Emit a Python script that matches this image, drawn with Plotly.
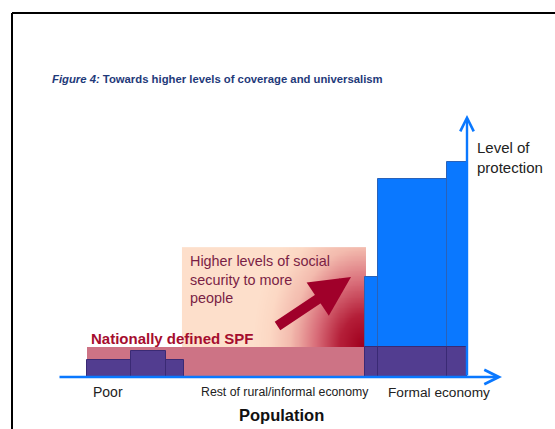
import numpy as np
import plotly.graph_objects as go

FONT = "Arial, 'Liberation Sans', sans-serif"

# Population groups along the x axis (left edge, width) and their level of protection
poor_left = [29, 73, 108]
poor_width = [44, 35, 18]
poor_level = [17, 26, 17]

formal_left = [307, 320, 389]
formal_width = [13, 69, 20]
formal_level = [100, 198, 215]

# Nationally defined social protection floor (SPF) across the non-formal population
spf_left, spf_width, spf_level = 29, 278, 30

# Region of extension ("higher levels of social security to more people")
ext_x0, ext_x1, ext_y0, ext_y1 = 125, 307, 30, 129

x_labels = ["Poor", "Rest of rural/informal economy", "Formal economy"]
x_label_pos = [50, 227, 381]

BLUE = "#0A78FF"
BLUE_EDGE = "#2A62B8"
PURPLE = "#523D90"
PURPLE_EDGE = "#3A2A74"
PINK = "#CD7385"
CRIMSON = "#A50D2E"
MAROON = "#7A1E45"


def centers(left, width):
    return [l + w / 2 for l, w in zip(left, width)]


fig = go.Figure()

# gradient background of the extension region (dark red toward the formal economy)
gx = np.linspace(ext_x0, ext_x1, 90)
gy = np.linspace(ext_y0, ext_y1, 60)
GX, GY = np.meshgrid(gx, gy)
dist = np.sqrt(((ext_x1 - 3 - GX) / 110.0) ** 2 + ((GY - ext_y0 - 2) / 150.0) ** 2)
fig.add_trace(go.Heatmap(
    x=gx, y=gy, z=np.clip(dist, 0, 1), zmin=0, zmax=1, zsmooth="best",
    colorscale=[[0, "#A0001E"], [0.2, "#B41E38"], [0.42, "#D86C78"],
                [0.65, "#F3BBAE"], [0.85, "#FCD8C4"], [1, "#FDDFCB"]],
    showscale=False, hoverinfo="skip"))

# SPF band
fig.add_trace(go.Bar(
    x=[spf_left + spf_width / 2], y=[spf_level], width=[spf_width], base=0,
    marker=dict(color=PINK, line=dict(width=0)), hoverinfo="skip"))

# poor groups
fig.add_trace(go.Bar(
    x=centers(poor_left, poor_width), y=poor_level, width=poor_width, base=0,
    marker=dict(color=PURPLE, line=dict(color=PURPLE_EDGE, width=1)), hoverinfo="skip"))

# formal economy: full level of protection
fig.add_trace(go.Bar(
    x=centers(formal_left, formal_width), y=formal_level, width=formal_width, base=0,
    marker=dict(color=BLUE, line=dict(color=BLUE_EDGE, width=1)), hoverinfo="skip"))

# formal economy: part covered by the floor
fig.add_trace(go.Bar(
    x=centers(formal_left, formal_width), y=[spf_level] * 3, width=formal_width, base=0,
    marker=dict(color=PURPLE, line=dict(color=PURPLE_EDGE, width=1)), hoverinfo="skip"))

x_end = formal_left[-1] + formal_width[-1]

annotations = [
    # x axis arrow
    dict(x=444, y=0, ax=0, ay=0, axref="x", ayref="y", xref="x", yref="y",
         showarrow=True, arrowhead=5, arrowsize=1.1, arrowwidth=2.6, arrowcolor=BLUE, text=""),
    # y axis arrow
    dict(x=x_end, y=262, ax=x_end, ay=0, axref="x", ayref="y", xref="x", yref="y",
         showarrow=True, arrowhead=5, arrowsize=1.1, arrowwidth=2.4, arrowcolor=BLUE, text=""),
    # extension arrow
    dict(x=293, y=100, ax=218, ay=50, axref="x", ayref="y", xref="x", yref="y",
         showarrow=True, arrowhead=2, arrowsize=0.8, arrowwidth=10, arrowcolor="#A0002A", text=""),
    # texts
    dict(x=130, y=126, xref="x", yref="y", xanchor="left", yanchor="top", showarrow=False,
         align="left", text="Higher levels of social<br>security to more<br>people",
         font=dict(family=FONT, size=14.4, color=MAROON)),
    dict(x=31, y=39, xref="x", yref="y", xanchor="left", yanchor="middle", showarrow=False,
         text="<b>Nationally defined SPF</b>", font=dict(family=FONT, size=15, color=CRIMSON)),
    dict(x=417, y=220, xref="x", yref="y", xanchor="left", yanchor="middle", showarrow=False,
         align="left", text="Level of<br>protection",
         font=dict(family=FONT, size=15, color="#222222")),
    dict(x=223, y=-38, xref="x", yref="y", xanchor="center", yanchor="middle", showarrow=False,
         text="<b>Population</b>", font=dict(family=FONT, size=16.5, color="#111111")),
    dict(x=0.09, y=0.816, xref="paper", yref="paper", xanchor="left", yanchor="middle",
         showarrow=False,
         text="<b><i>Figure 4:</i> Towards higher levels of coverage and universalism</b>",
         font=dict(family=FONT, size=11.3, color="#1F3A7A")),
]
label_sizes = [14, 12.3, 13.7]
for lab, pos, sz in zip(x_labels, x_label_pos, label_sizes):
    annotations.append(dict(x=pos, y=-15, xref="x", yref="y", xanchor="center",
                            yanchor="middle", showarrow=False, text=lab,
                            font=dict(family=FONT, size=sz, color="#222222")))

fig.update_layout(
    width=555, height=429, margin=dict(l=0, r=0, t=0, b=0),
    paper_bgcolor="white", plot_bgcolor="white",
    barmode="overlay", bargap=0, showlegend=False,
    xaxis=dict(range=[-58, 497], visible=False, fixedrange=True),
    yaxis=dict(range=[-52, 377], visible=False, fixedrange=True),
    annotations=annotations,
    shapes=[
        dict(type="line", xref="paper", yref="paper", x0=12 / 555, x1=1.0,
             y0=1 - 13 / 429, y1=1 - 13 / 429, line=dict(color="black", width=2)),
        dict(type="line", xref="paper", yref="paper", x0=12 / 555, x1=12 / 555,
             y0=1 - 13 / 429, y1=0, line=dict(color="black", width=2)),
    ],
)

fig.write_html("out.html")
